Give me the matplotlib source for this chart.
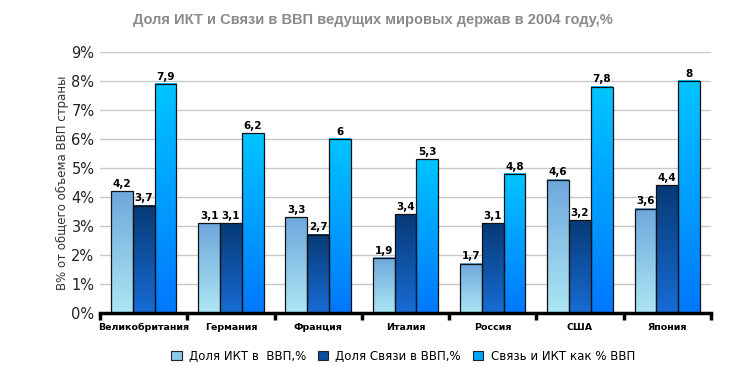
import numpy as np
import matplotlib
matplotlib.use("Agg")
import matplotlib.pyplot as plt
from matplotlib.colors import LinearSegmentedColormap

countries = ["Великобритания", "Германия", "Франция", "Италия", "Россия", "США", "Япония"]
ikt_share = [4.2, 3.1, 3.3, 1.9, 1.7, 4.6, 3.6]
svyaz_share = [3.7, 3.1, 2.7, 3.4, 3.1, 3.2, 4.4]
total_share = [7.9, 6.2, 6.0, 5.3, 4.8, 7.8, 8.0]
series_names = ["Доля ИКТ в  ВВП,%", "Доля Связи в ВВП,%", "Связь и ИКТ как % ВВП"]

# gradient colours: (top, bottom)
grads = [("#6ea8dc", "#ace6f4"), ("#073a76", "#176cd4"), ("#00c4ff", "#0078ff")]
flat = ["#8cc8ea", "#0a4fa0", "#00a8ff"]


def label(v):
    s = f"{v:g}"
    return s.replace(".", ",")


fig = plt.figure(figsize=(7.46, 3.71), dpi=100)
ax = fig.add_axes([0.134, 0.156, 0.819, 0.704])

x = np.arange(len(countries))
w = 0.25
all_series = [ikt_share, svyaz_share, total_share]
handles = []
for i, vals in enumerate(all_series):
    bars = ax.bar(x + (i - 1) * w, vals, w, color="none", edgecolor="#111111",
                  linewidth=0.9, zorder=4)
    cmap = LinearSegmentedColormap.from_list(f"g{i}", [grads[i][1], grads[i][0]])
    for b, v in zip(bars, vals):
        x0 = b.get_x()
        grad = np.linspace(0, 1, 100).reshape(-1, 1)
        ax.imshow(grad, cmap=cmap, origin="lower", aspect="auto",
                  extent=[x0, x0 + b.get_width(), 0, b.get_height()], zorder=3)
        ax.text(x0 + b.get_width() / 2, v + 0.08, label(v), ha="center", va="bottom",
                fontsize=7.5, fontweight="bold", zorder=5)
    handles.append(plt.Rectangle((0, 0), 1, 1, facecolor=flat[i], edgecolor="#222222",
                                 linewidth=0.8))

ax.set_xlim(-0.5, len(countries) - 0.5)
ax.set_ylim(0, 9)
ax.set_yticks(range(0, 10))
ax.set_yticklabels([f"{t}%" for t in range(0, 10)], fontsize=10.5, color="#222222")
ax.yaxis.grid(True, color="#c8c8c8", linewidth=1.0, zorder=0)
ax.set_axisbelow(True)
ax.tick_params(axis="y", length=0, pad=4)

ax.set_xticks(x)
ax.set_xticklabels(countries, fontsize=6.8, fontweight="bold")
ax.tick_params(axis="x", length=0, pad=7)
ax.set_xticks(np.arange(-0.5, len(countries)), minor=True)
ax.tick_params(axis="x", which="minor", length=5, width=2.5, direction="out", color="black")

for s in ["top", "right", "left"]:
    ax.spines[s].set_visible(False)
ax.spines["bottom"].set_linewidth(2.5)
ax.spines["bottom"].set_zorder(6)

ax.set_ylabel("В% от общего объема ВВП страны", fontsize=8.5, color="#333333", labelpad=2)

fig.suptitle("Доля ИКТ и Связи в ВВП ведущих мировых держав в 2004 году,%",
             x=0.5, y=0.965, fontsize=10.5, fontweight="bold", color="#8a8a8a",
             family="Liberation Sans")

fig.legend(handles, series_names, loc="center", bbox_to_anchor=(0.54, 0.04), ncol=3,
           frameon=False, fontsize=8.5, handlelength=0.9, handleheight=0.9,
           handletextpad=0.6, columnspacing=1.0)

fig.savefig("out.png", dpi=100)
